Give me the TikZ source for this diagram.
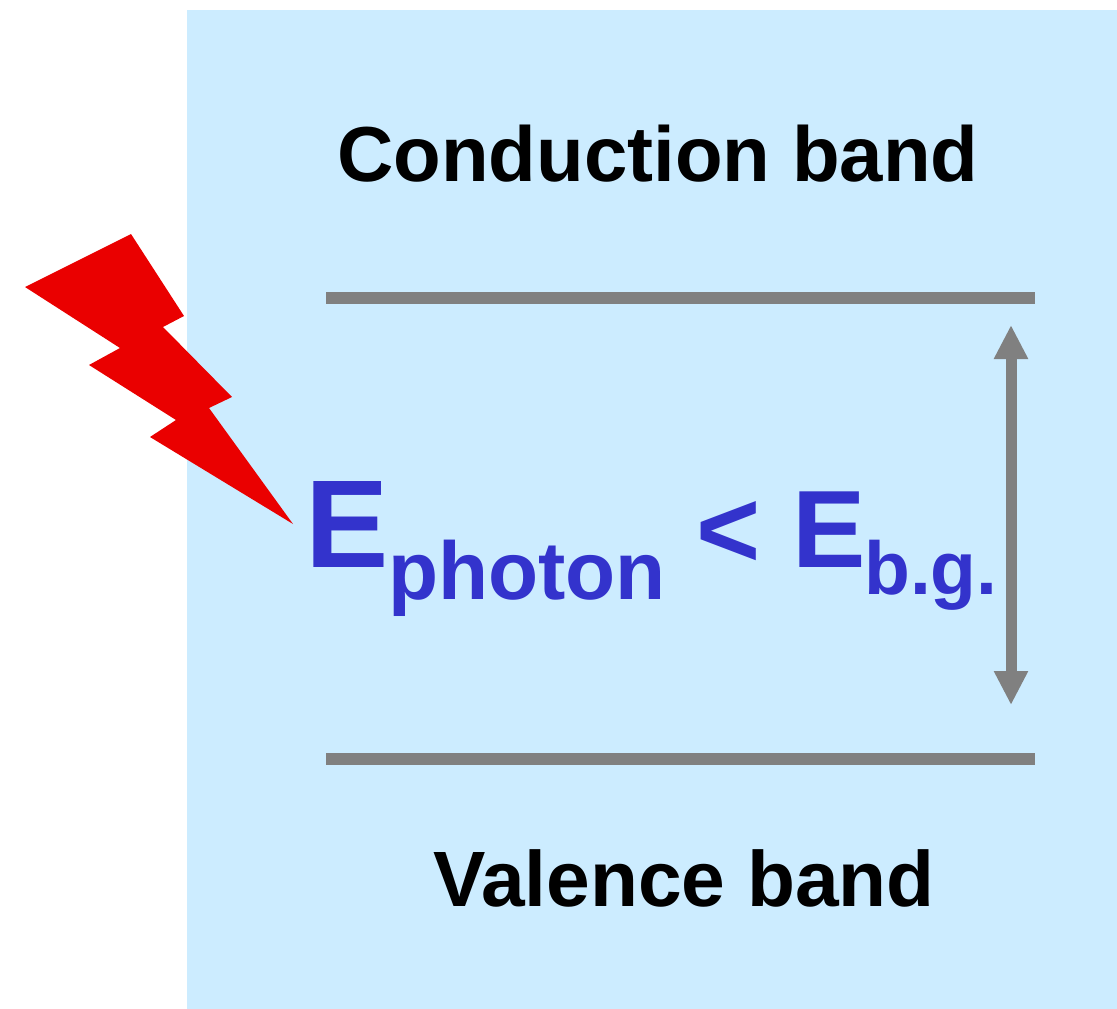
\documentclass[tikz,border=0pt]{standalone}
\usepackage{fontspec}
\setmainfont{Liberation Sans}
\usetikzlibrary{arrows.meta}
\definecolor{bandbg}{HTML}{CCECFF}
\definecolor{boltred}{HTML}{EA0000}
\definecolor{levelgray}{HTML}{808080}
\definecolor{eblue}{HTML}{3333CC}
\tikzset{
  bandlabel/.style={anchor=base west, inner sep=0pt, text=black, font=\bfseries\fontsize{#1}{80}\selectfont},
  emain/.style={anchor=base west, inner sep=0pt, text=eblue, font=\bfseries\fontsize{#1}{#1}\selectfont},
  level/.style={levelgray, line width=12pt},
  gaparrow/.style={{Triangle[length=34pt,width=32pt]}-{Triangle[length=34pt,width=32pt]}, levelgray, line width=11pt}
}
\begin{document}
\begin{tikzpicture}[x=1pt,y=-1pt]
  \useasboundingbox (0,0) rectangle (1117,1009);
  % Background
  \fill[bandbg] (187,10) rectangle (1117,1009);

  % Lightning bolt
  \fill[boltred] (131,234) -- (184,316) -- (163,327) -- (232,397) -- (209,408) -- (293,524)
    -- (150,437) -- (176,420) -- (89,365) -- (120,348) -- (25,287) -- cycle;

  % Band edges
  \coordinate (cbl) at (326,298);
  \coordinate (cbr) at (1035,298);
  \coordinate (vbl) at (326,759);
  \coordinate (vbr) at (1035,759);
  \draw[level] (cbl) -- (cbr);
  \draw[level] (vbl) -- (vbr);

  % Gap arrow
  \coordinate (gaptop) at (1011,325);
  \coordinate (gapbot) at (1011,705);
  \draw[gaparrow] (gaptop) -- (gapbot);

  % Labels
  \node[bandlabel=78] (cb) at (337,181) {Conduction band};
  \node[bandlabel=78.5] (vb) at (433,906) {Valence band};
  \node[emain=125] (ephoton) at (305,567) {E};
  \node[emain=82] (photon) at (388,599) {photon};
  \node[emain=110] (lt) at (696.5,567) {<};
  \node[emain=110] (ebg) at (792.6,567) {E};
  \node[emain=75] (bg) at (864,594) {b.g.};
\end{tikzpicture}
\end{document}
